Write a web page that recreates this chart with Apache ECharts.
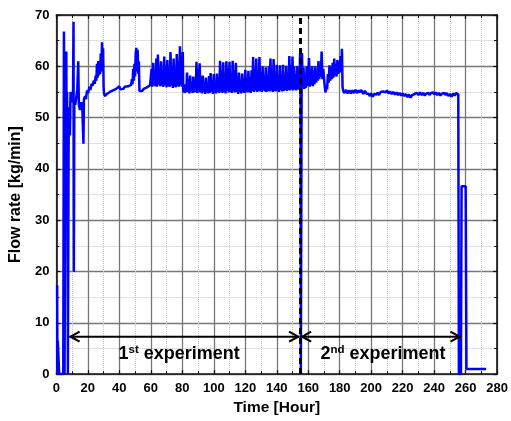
<!DOCTYPE html>
<html><head><meta charset="utf-8">
<script src="https://cdn.jsdelivr.net/npm/echarts@6/dist/echarts.min.js"></script>
<style>html,body{margin:0;padding:0;background:#fff}#c{width:511px;height:421px}</style>
</head><body><div id="c"></div>
<script>
// [hour, kg/min]
const startupData = [
[0.5,17.3],[0.7,0.3],[0.9,6.5],[1.6,6.5],[1.8,0],[4.4,0],[4.8,66.8],[5.0,55],[5.2,0],[5.6,0],[5.9,55],[6.3,62.9],[6.5,47],[6.8,55],[7.1,46],[7.3,0],[7.6,0],[7.8,46],[8.2,52],[8.6,46.5],[9.0,55],[9.5,53],[10.0,54],[10.6,55],[10.9,68.7],[11.1,19.9],[11.4,53.5],[12.0,52.5],[12.6,53.8],[13.3,55.5],[13.9,61],[14.3,52.5],[15.0,51.5],[15.8,53],[16.5,51.8],[17.2,44.9],
[17.5,53.5],[18.2,54.2],[18.8,53.6],[19.5,55.3],[20.2,54.8],[21,56],[21.6,55.4],[22.4,56.6],[23,56.2],[23.8,57.2],[24.4,56.6],[25,58.2],[25.4,57.2],[25.8,60.5],[26.2,57.8],[26.6,61],[27,58.2],[27.4,60],[27.8,58.5],[28.2,62.5],[28.6,59],[29.0,64.7],[29.4,60],[29.7,63.5],[30.0,56],[30.3,54.6],[31,54.2],[32,54.6],[33,54.4],[34,55],[35,54.8],[36,55.3],[37,55.1],[38,55.6],[39,55.4],[40,56.1],[40.6,55.5],[41.5,55.7],[42.5,55.6],[43.5,56],[44.5,55.8],[45.5,56.1],[46.5,56],[47.5,56.4],[48,57.5],[48.4,56.5],[48.8,59.5],[49.2,57.2],[49.6,60.5],[50,58],[50.4,62.5],[50.8,63.6],[51.2,59],[51.6,63.2],[52.0,58.5],[52.4,61],[52.8,55.2],[53.5,55.4],[54.5,55.2],[55.5,55.6],[56.5,55.5],[57.5,55.9],[58.5,56],[59.5,56.3]
];
const run1Data = [
[60,56.2],[60.5,59.5],[61,56.0],[61.5,60.7],[62,56.3],[62.5,58.5],[63,56.1],[63.5,61.5],[64,56.0],[64.5,62.3],[65,56.4],[65.5,59.8],[66,56.1],[66.5,61.0],[67,56.2],[67.5,58.7],[68,56.0],[68.5,61.9],[69,56.3],[69.5,60.2],[70,55.9],[70.5,61.2],[71,56.1],[71.5,59.0],[72,56.0],[72.5,62.8],[73,56.2],[73.5,60.0],[74,55.8],[74.5,61.5],[75,56.0],[75.5,59.5],[76,55.9],[76.5,62.4],[77,56.1],[77.5,61.0],[78,56.0],[78.5,63.9],[79,56.2],[79.5,62.0],[80,56.0],[80.3,62.8],[80.6,55.0],
[81.0,55.6],[81.5,54.8],[82.0,56.5],[82.5,54.9],[83.0,58.8],[83.5,55.0],[84.0,57.6],[84.5,54.7],[85.0,58.2],[85.5,55.1],[86.0,56.8],[86.5,54.8],[87.0,58.0],[87.5,54.9],[88.0,57.2],[88.5,55.0],[89.0,60.9],[89.5,54.8],[90.0,59.5],[90.5,55.1],[91.0,60.6],[91.5,54.9],[92.0,58.0],[92.5,54.7],[93.0,58.2],[93.5,55.0],[94.0,56.9],[94.5,54.6],[95.0,57.8],[95.5,54.9],[96.0,56.5],[96.5,54.7],[97.0,58.1],[97.5,54.8],[98.0,58.7],[98.5,55.0],[99.0,57.3],[99.5,54.6],[100.0,58.5],[100.5,54.9],[101.0,56.8],[101.5,54.7],[102.0,58.6],[102.5,55.0],[103.0,57.4],[103.5,54.8],[104.0,61.1],[104.5,55.1],[105.0,59.0],[105.5,54.8],[106.0,60.8],[106.5,55.0],[107.0,58.2],[107.5,54.7],[108.0,61.0],[108.5,55.2],[109.0,59.6],[109.5,54.9],[110.0,60.9],[110.5,55.0],[111.0,57.8],[111.5,54.8],[112.0,61.1],[112.5,55.1],[113.0,59.2],[113.5,54.9],[114.0,60.7],[114.5,55.0],[115.0,58.0],[115.5,54.6],[116.0,58.8],[116.5,54.9],[117.0,57.1],[117.5,54.7],[118.0,58.6],[118.5,55.0],[119.0,57.5],[119.5,54.8],[120.0,59.3],[120.5,55.1],[121.0,57.6],[121.5,54.9],[122.0,59.1],[122.5,55.0],[123.0,57.9],[123.5,54.8],[124.0,59.2],[124.5,55.2],[125.0,61.8],[125.5,55.0],[126.0,59.4],[126.5,55.3],[127.0,61.5],[127.5,55.0],[128.0,58.6],[128.5,55.2],[129.0,61.8],[129.5,55.1],[130.0,58.9],[130.5,55.0],[131.0,60.0],[131.5,55.3],[132.0,57.7],[132.5,55.1],[133.0,59.8],[133.5,55.0],[134.0,58.2],[134.5,55.2],[135.0,60.0],[135.5,55.1],[136.0,61.5],[136.5,55.3],[137.0,59.0],[137.5,55.0],[138.0,61.4],[138.5,55.2],[139.0,58.8],[139.5,55.1],[140.0,60.3],[140.5,55.3],[141.0,57.9],[141.5,55.0],[142.0,60.2],[142.5,55.4],[143.0,58.5],[143.5,55.1],[144.0,60.3],[144.5,55.2],[145.0,57.6],[145.5,55.4],[146.0,60.1],[146.5,55.2],[147.0,58.7],[147.5,55.4],[148.0,62.0],[148.5,55.3],[149.0,60.2],[149.5,55.5],[150.0,61.9],[150.5,55.3],[151.0,60.0],[151.5,55.5],[152.0,58.4],[152.5,55.3],[153.0,60.0],[153.5,55.6],[154.0,59.2],[154.5,55.4],[154.8,62.5],[155.1,58],[155.3,0],[155.6,0]
];
const run2Data = [
[155.8,57],[156.0,62.6],[156.5,56.0],[157.0,59.8],[157.5,55.6],[158.0,58.5],[158.5,55.8],[159.0,60.0],[159.5,56.2],[160.0,58.0],[160.5,61.6],[161.0,56.0],[161.5,59.5],[162.0,56.3],[162.5,60.0],[163.0,56.1],[163.5,59.2],[164.0,56.5],[164.5,60.0],[165.0,56.8],[165.5,59.0],[166.0,57.2],[166.5,61.0],[167.0,57.5],[167.5,60.2],[168.0,58.0],[168.5,62.9],[169.0,57.5],[169.5,59.5],[170.0,57.8],[170.5,56.0],[171.0,54.9],[171.5,56.2],[172.0,55.5],[172.5,58.5],[173.0,56.8],[173.5,60.2],[174.0,57.2],[174.5,59.8],[175.0,57.5],[175.5,60.7],[176.0,57.8],[176.5,61.5],[177.0,58.2],[177.5,60.5],[178.0,58.0],[178.5,61.2],[179.0,58.5],[179.5,61.0],[180.0,58.8],[180.5,62.0],[181.0,59.0],[181.4,63.4],[181.8,56.0],[182.2,55.2],
[182.5,55.3],[183.0,54.8],[183.5,55.0],[184.0,55.4],[184.5,55.2],[185.0,54.7],[185.5,54.9],[186.0,55.3],[186.5,55.1],[187.0,54.7],[187.5,54.8],[188.0,55.3],[188.5,55.2],[189.0,54.8],[189.5,55.0],[190.0,55.4],[190.5,55.3],[191.0,54.8],[191.5,54.9],[192.0,55.3],[192.5,55.1],[193.0,54.9],[193.5,55.4],[194.0,55.2],[194.5,55.0],[195.0,54.6],[195.5,54.8],[196.0,55.2],[196.5,55.1],[197.0,54.7],[197.5,54.9],[198.0,54.5],[198.5,54.6],[199.0,54.2],[199.5,54.3],[200.0,54.7],[200.5,54.6],[201.0,54.1],[201.5,54.2],[202.0,54.6],[202.5,54.7],[203.0,54.3],[203.5,54.5],[204.0,54.9],[204.5,54.8],[205.0,54.4],[205.5,54.6],[206.0,55.0],[206.5,54.9],[207.0,54.7],[207.5,55.1],[208.0,55.4],[208.5,55.3],[209.0,54.9],[209.5,55.0],[210.0,55.3],[210.5,55.2],[211.0,54.7],[211.5,54.8],[212.0,55.1],[212.5,55.0],[213.0,54.6],[213.5,54.7],[214.0,55.0],[214.5,54.9],[215.0,54.5],[215.5,54.6],[216.0,54.9],[216.5,54.8],[217.0,54.4],[217.5,54.5],[218.0,54.8],[218.5,54.7],[219.0,54.3],[219.5,54.4],[220.0,54.7],[220.5,54.6],[221.0,54.2],[221.5,54.3],[222.0,54.6],[222.5,54.5],[223.0,54.0],[223.5,54.1],[224.0,54.5],[224.5,54.4],[225.0,53.9],[225.5,54.0],[226.0,54.4],[226.5,54.3],[227.0,54.7],[227.5,54.6],[228.0,54.3],[228.5,54.4],[229.0,54.8],[229.5,54.7],[230.0,54.4],[230.5,54.5],[231.0,54.9],[231.5,54.8],[232.0,54.4],[232.5,54.5],[233.0,54.8],[233.5,54.7],[234.0,54.3],[234.5,54.4],[235.0,54.7],[235.5,54.6],[236.0,54.9],[236.5,54.8],[237.0,54.4],[237.5,54.5],[238.0,54.8],[238.5,54.7],[239.0,55.0],[239.5,54.9],[240.0,54.5],[240.5,54.6],[241.0,54.9],[241.5,54.8],[242.0,54.4],[242.5,54.5],[243.0,54.8],[243.5,54.7],[244.0,54.3],[244.5,54.4],[245.0,54.7],[245.5,54.6],[246.0,54.9],[246.5,54.8],[247.0,54.4],[247.5,54.5],[248.0,54.8],[248.5,54.7],[249.0,54.2],[249.5,54.3],[250.0,54.6],[250.5,54.5],[251.0,54.1],[251.5,54.2],[252.0,54.7],[252.5,54.6],[253.0,54.3],[253.5,54.4],[254.0,54.8],[254.5,54.7],[255.3,54.5]
];
const shutdownData = [[255.7,0],[257.0,0],[257.4,36.6],[260.0,36.6],[260.5,1.0],[273.0,1.0]];

const dividerHour = 155;
// [fromHour, toHour, level]
const arrowSpans = [[8.4,154.2,7.3],[155.5,256.7,7.3]];
// [centerHour, level, number, suffix]
const experimentLabels = [[78,3.9,'1','st'],[207.5,3.9,'2','nd']];

const flowData = startupData.concat(run1Data, run2Data, shutdownData);
const FONT = 'Liberation Sans, Arial, sans-serif';

const chart = echarts.init(document.getElementById('c'));
const axisLineStyle = {color:'#111', width:1.6};
const baseX = {
  type:'value', min:0, max:280, interval:20,
  axisLine:{show:true, onZero:false, lineStyle:axisLineStyle},
  axisTick:{show:true, inside:true, length:4, lineStyle:{color:'#111', width:1.2}},
  minorTick:{show:true, splitNumber:2, length:3, lineStyle:{color:'#111', width:1}}
};
const baseY = {
  type:'value', min:0, max:70, interval:10,
  axisLine:{show:true, onZero:false, lineStyle:axisLineStyle},
  axisTick:{show:true, inside:true, length:4, lineStyle:{color:'#111', width:1.2}},
  minorTick:{show:true, splitNumber:2, length:3, lineStyle:{color:'#111', width:1}}
};
chart.setOption({
  animation:false,
  grid:{left:55, right:9, top:15, bottom:43, containLabel:false},
  xAxis:[
    Object.assign({}, baseX, {
      position:'bottom',
      splitLine:{show:true, lineStyle:{color:'#777', width:1.3}},
      minorSplitLine:{show:true, lineStyle:{color:'#c4c4c4', width:1, type:'dotted'}},
      axisLabel:{color:'#000', fontWeight:'bold', fontSize:13, fontFamily:FONT, margin:8},
      name:'Time [Hour]', nameLocation:'middle', nameGap:25,
      nameTextStyle:{color:'#000', fontWeight:'bold', fontSize:15.5, fontFamily:FONT}
    }),
    Object.assign({}, baseX, {position:'top', axisLabel:{show:false}, splitLine:{show:false}})
  ],
  yAxis:[
    Object.assign({}, baseY, {
      position:'left',
      splitLine:{show:true, lineStyle:{color:'#777', width:1.3}},
      minorSplitLine:{show:true, lineStyle:{color:'#c4c4c4', width:1, type:'dotted'}},
      axisLabel:{color:'#000', fontWeight:'bold', fontSize:13, fontFamily:FONT, margin:7},
      name:'Flow rate [kg/min]', nameLocation:'middle', nameGap:22,
      nameTextStyle:{color:'#000', fontWeight:'bold', fontSize:16, fontFamily:FONT}
    }),
    Object.assign({}, baseY, {position:'right', axisLabel:{show:false}, splitLine:{show:false}})
  ],
  series:[
    {
      type:'line', data:flowData, showSymbol:false, symbol:'none',
      lineStyle:{color:'#0000ff', width:2.5}, z:3,
      markLine:{
        silent:true, symbol:'none', animation:false, z:5,
        label:{show:false},
        lineStyle:{color:'#000', width:3, type:[6,4]},
        data:[{xAxis:dividerHour}]
      }
    },
    {
      type:'custom', data:arrowSpans, z:6, silent:true,
      encode:{x:[0,1], y:2},
      renderItem:function(params, api){
        const p1 = api.coord([api.value(0), api.value(2)]);
        const p2 = api.coord([api.value(1), api.value(2)]);
        const st = {stroke:'#000', lineWidth:2, fill:null};
        return {type:'group', children:[
          {type:'line', shape:{x1:p1[0], y1:p1[1], x2:p2[0], y2:p2[1]}, style:st},
          {type:'polyline', shape:{points:[[p1[0]+10,p1[1]-5],[p1[0]+1,p1[1]],[p1[0]+10,p1[1]+5]]}, style:{stroke:'#000', lineWidth:2.2, fill:null}},
          {type:'polyline', shape:{points:[[p2[0]-10,p2[1]-5],[p2[0]-1,p2[1]],[p2[0]-10,p2[1]+5]]}, style:{stroke:'#000', lineWidth:2.2, fill:null}}
        ]};
      }
    },
    {
      type:'custom', data:experimentLabels, z:6, silent:true,
      encode:{x:0, y:1},
      renderItem:function(params, api){
        const p = api.coord([api.value(0), api.value(1)]);
        const item = experimentLabels[params.dataIndex];
        return {type:'text', x:p[0], y:p[1], style:{
          text:'{n|' + item[2] + '}{s|' + item[3] + '}{n| experiment}',
          align:'center', verticalAlign:'middle', fill:'#000',
          rich:{
            n:{fontSize:18, fontWeight:'bold', fontFamily:FONT, fill:'#000'},
            s:{fontSize:11.5, fontWeight:'bold', fontFamily:FONT, fill:'#000', padding:[0,0,8,0]}
          }
        }};
      }
    }
  ]
});
</script></body></html>
